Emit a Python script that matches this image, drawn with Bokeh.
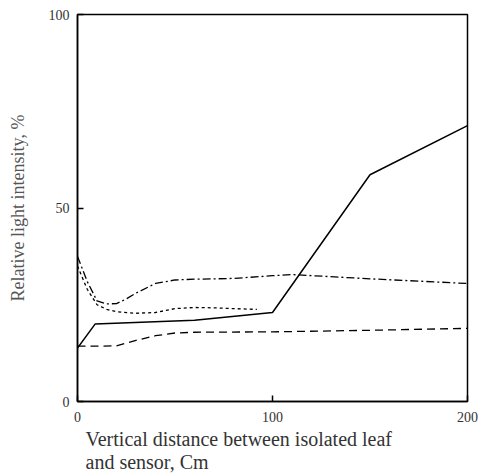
from bokeh.plotting import figure
from bokeh.models import Range1d, Title, FixedTicker
from bokeh.embed import file_html
from bokeh.resources import INLINE

# Data
x_solid = [0, 9, 60, 100, 150, 200]
y_solid = [13.8, 20.0, 21.0, 23.0, 58.6, 71.3]

x_dash = [0, 10, 20, 30, 40, 50, 60, 100, 150, 200]
y_dash = [14.3, 14.3, 14.4, 15.8, 17.0, 17.7, 17.9, 18.0, 18.4, 18.9]

x_dashdot = [0, 5, 10, 15, 20, 25, 30, 40, 50, 60, 80, 100, 110, 150, 200]
y_dashdot = [37.5, 31.0, 26.0, 25.2, 25.3, 26.5, 28.0, 30.5, 31.4, 31.6, 31.8, 32.5, 32.8, 31.7, 30.5]

x_dot = [0, 5, 10, 15, 20, 30, 40, 50, 60, 70, 80, 92]
y_dot = [35.0, 29.0, 25.0, 23.8, 23.2, 22.8, 23.0, 24.0, 24.3, 24.2, 24.0, 23.8]

x_ticks = [0, 100, 200]
y_ticks = [0, 50, 100]
x_label_lines = ["Vertical distance between isolated leaf", "and sensor, Cm"]
y_label = "Relative light intensity, %"

FONT = "Liberation Serif"

p = figure(frame_width=390, frame_height=387, output_backend="svg", toolbar_location=None,
           x_range=Range1d(0, 200), y_range=Range1d(0, 100),
           min_border_left=77, min_border_right=13, min_border_top=14, min_border_bottom=5)
p.grid.visible = False
p.outline_line_color = "black"
p.outline_line_width = 1.5
p.background_fill_color = "white"
p.border_fill_color = "white"

for ax in (p.xaxis[0], p.yaxis[0]):
    ax.axis_line_width = 1.5
    ax.axis_line_color = "black"
    ax.major_tick_in = 6
    ax.major_tick_out = 0
    ax.minor_tick_in = 0
    ax.minor_tick_out = 0
    ax.major_tick_line_color = "black"
    ax.major_tick_line_width = 1.5
    ax.major_label_text_font = FONT
    ax.major_label_text_font_size = "14px"
    ax.major_label_text_color = "#333333"

p.xaxis.ticker = FixedTicker(ticks=x_ticks)
p.yaxis.ticker = FixedTicker(ticks=y_ticks)
p.xaxis.major_label_standoff = 10
p.yaxis.major_label_standoff = 8

p.yaxis.axis_label = y_label
p.yaxis.axis_label_text_font = FONT
p.yaxis.axis_label_text_font_style = "normal"
p.yaxis.axis_label_text_font_size = "18px"
p.yaxis.axis_label_text_color = "#555555"
p.yaxis.axis_label_standoff = 18

p.line(x_solid, y_solid, line_color="black", line_width=1.5)
p.line(x_dash, y_dash, line_color="black", line_width=1.3, line_dash="8 5")
p.line(x_dashdot, y_dashdot, line_color="black", line_width=1.3, line_dash="8 3 2 3")
p.line(x_dot, y_dot, line_color="black", line_width=1.3, line_dash="3 3")

p.add_layout(Title(text="\n".join(x_label_lines), align="left", offset=8, text_font=FONT,
                   text_font_size="20px", text_font_style="normal", text_color="#333333",
                   text_line_height=1.05, standoff=4), "below")

open("out.html", "w").write(file_html(p, INLINE))
